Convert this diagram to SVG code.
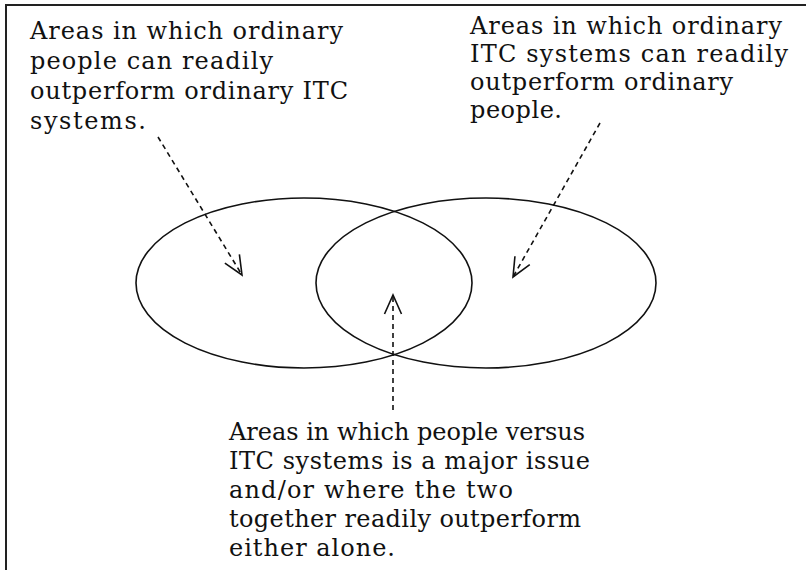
<svg xmlns="http://www.w3.org/2000/svg" width="806" height="570" viewBox="0 0 806 570">
  <style>
    .lbl { font-family: "DejaVu Serif", "Liberation Serif", serif; font-size: 24px; fill: #111; }
    .set { fill: none; stroke: #111; stroke-width: 1.6; }
    .conn { fill: none; stroke: #111; stroke-width: 1.6; stroke-dasharray: 5 4; }
    .frame { stroke: #222; stroke-width: 2; fill: none; }
  </style>
  <defs>
    <marker id="vhead" markerUnits="userSpaceOnUse" markerWidth="24" markerHeight="24" viewBox="-22 -12 24 24" refX="0" refY="0" orient="auto">
      <path d="M-19,-8.5 L0,0 L-19,8.5" fill="none" stroke="#111" stroke-width="1.6"/>
    </marker>
  </defs>
  <rect width="806" height="570" fill="#fff"/>
  <g id="frame">
    <line class="frame" x1="6" y1="5" x2="806" y2="5"/>
    <line class="frame" x1="6" y1="4" x2="6" y2="570"/>
  </g>
  <g id="people-set">
    <ellipse class="set" cx="304" cy="283" rx="168" ry="85"/>
  </g>
  <g id="itc-set">
    <ellipse class="set" cx="486" cy="283" rx="170" ry="85"/>
  </g>
  <g id="label-people">
    <text class="lbl" x="30" y="39" textLength="313" lengthAdjust="spacing">Areas in which ordinary</text>
    <text class="lbl" x="30" y="69" textLength="243" lengthAdjust="spacing">people can readily</text>
    <text class="lbl" x="30" y="99" textLength="318" lengthAdjust="spacing">outperform ordinary ITC</text>
    <text class="lbl" x="30" y="129" textLength="116" lengthAdjust="spacing">systems.</text>
  </g>
  <g id="label-itc">
    <text class="lbl" x="470" y="34" textLength="312" lengthAdjust="spacing">Areas in which ordinary</text>
    <text class="lbl" x="470" y="62" textLength="318" lengthAdjust="spacing">ITC systems can readily</text>
    <text class="lbl" x="470" y="90" textLength="263" lengthAdjust="spacing">outperform ordinary</text>
    <text class="lbl" x="470" y="118" textLength="92" lengthAdjust="spacing">people.</text>
  </g>
  <g id="label-overlap">
    <text class="lbl" x="229" y="440" textLength="356" lengthAdjust="spacing">Areas in which people versus</text>
    <text class="lbl" x="229" y="469" textLength="361" lengthAdjust="spacing">ITC systems is a major issue</text>
    <text class="lbl" x="229" y="498" textLength="284" lengthAdjust="spacing">and/or where the two</text>
    <text class="lbl" x="229" y="527" textLength="352" lengthAdjust="spacing">together readily outperform</text>
    <text class="lbl" x="229" y="556" textLength="166" lengthAdjust="spacing">either alone.</text>
  </g>
  <g id="connectors">
    <line class="conn" x1="158" y1="137" x2="242" y2="275" marker-end="url(#vhead)"/>
    <line class="conn" x1="600" y1="123" x2="513" y2="277" marker-end="url(#vhead)"/>
    <line class="conn" x1="393" y1="410" x2="393" y2="295" marker-end="url(#vhead)"/>
  </g>
</svg>
